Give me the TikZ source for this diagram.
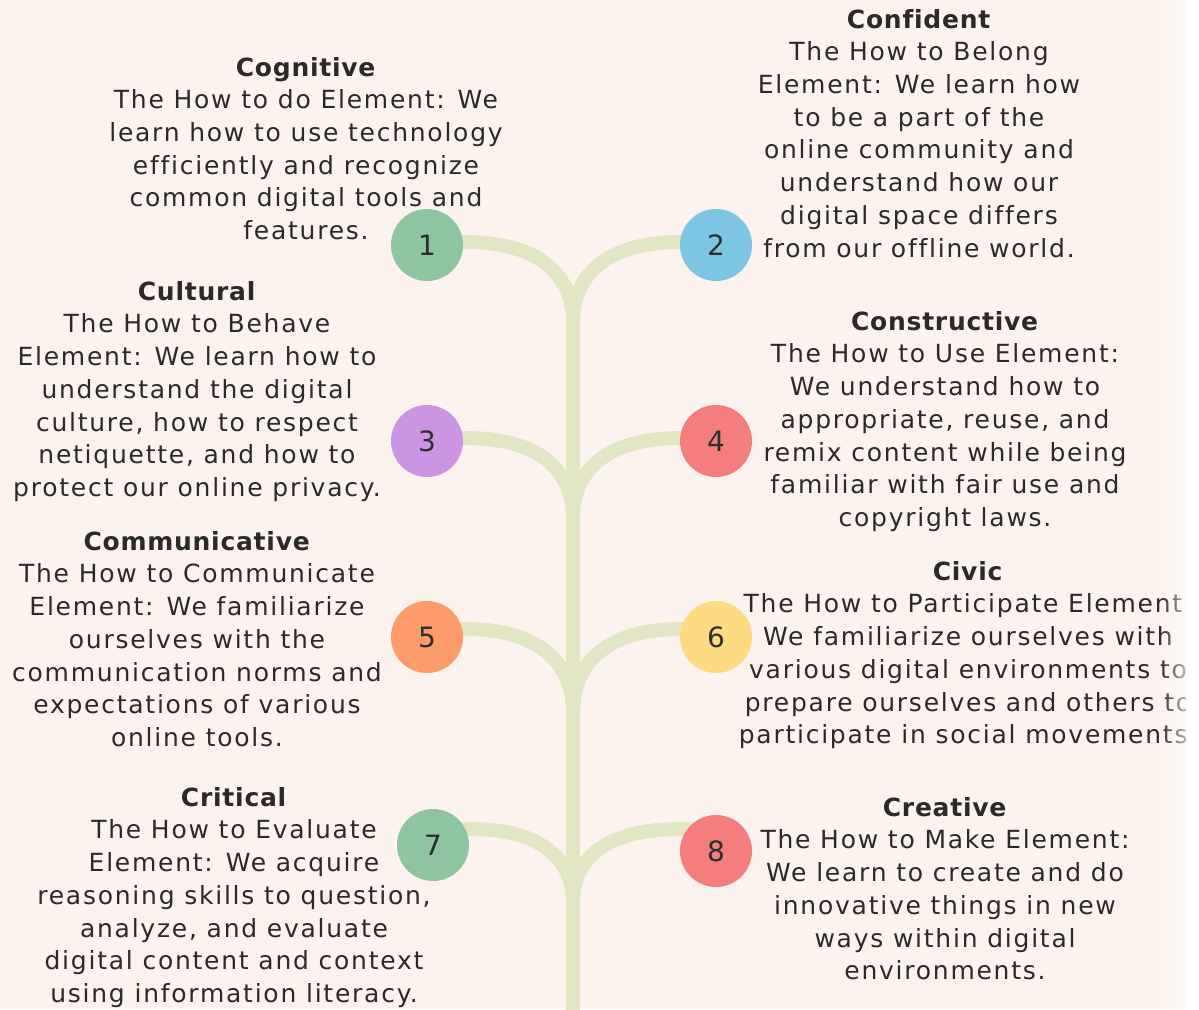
\documentclass[tikz,border=0pt]{standalone}
\usepackage{fontspec}
\setmainfont{DejaVu Sans}[LetterSpace=7, Ligatures=NoCommon, BoldFeatures={LetterSpace=3}]
\newfontfamily\numfont{DejaVu Sans}
\usetikzlibrary{fadings}
\definecolor{bgc}{HTML}{FCF3EE}
\definecolor{stemc}{HTML}{E2E6C4}
\definecolor{textc}{HTML}{2A2A2A}
\definecolor{numc}{HTML}{2E2E2E}
\definecolor{cgreen}{HTML}{8FC4A1}
\definecolor{cblue}{HTML}{7CC6E4}
\definecolor{cpurple}{HTML}{CC95E3}
\definecolor{cred}{HTML}{F47E7E}
\definecolor{corange}{HTML}{FB9C6A}
\definecolor{cyellow}{HTML}{FDDB82}
\pgfdeclarelayer{under}
\pgfsetlayers{under,main}
\begin{document}
\begin{tikzpicture}[x=1pt,y=-1pt,
  txt/.style={align=center, inner sep=0pt, anchor=north, text=textc,
    font=\fontsize{25}{32.7}\selectfont, execute at begin node=\strut},
  dot/.style={circle, minimum size=72pt, inner sep=0pt, text=numc,
    font=\numfont\fontsize{28}{32}\selectfont},
  branch/.style={draw=stemc, line width=14pt, line cap=butt}]
\useasboundingbox (0,0) rectangle (1199,1009);
\begin{pgfonlayer}{under}
  \fill[bgc] (0,0) rectangle (1199,1009);
\end{pgfonlayer}

% circles
\node[dot, fill=cgreen]  (c1) at (427,245) {1};
\node[dot, fill=cblue]   (c2) at (716,245) {2};
\node[dot, fill=cpurple] (c3) at (427,441) {3};
\node[dot, fill=cred]    (c4) at (716,441) {4};
\node[dot, fill=corange] (c5) at (427,637) {5};
\node[dot, fill=cyellow] (c6) at (716,637) {6};
\node[dot, fill=cgreen]  (c7) at (433,845) {7};
\node[dot, fill=cred]    (c8) at (716,851) {8};

% junctions on the stem
\coordinate (j1) at (573,322);
\coordinate (j2) at (573,518);
\coordinate (j3) at (573,713);
\coordinate (j4) at (573,903);
\coordinate (jb) at (573,1015);

\begin{pgfonlayer}{under}
  \draw[branch] (j1) -- (jb);
  \draw[branch] (c1.center) -- (465,242) .. controls (545,242) and (573,280) .. (j1);
  \draw[branch] (c2.center) -- (681,242) .. controls (601,242) and (573,280) .. (j1);
  \draw[branch] (c3.center) -- (465,438) .. controls (545,438) and (573,475) .. (j2);
  \draw[branch] (c4.center) -- (681,438) .. controls (601,438) and (573,475) .. (j2);
  \draw[branch] (c5.center) -- (465,629) .. controls (545,629) and (573,668) .. (j3);
  \draw[branch] (c6.center) -- (681,629) .. controls (601,629) and (573,668) .. (j3);
  \draw[branch] (c7.center) -- (450,829) -- (470,829) .. controls (545,829) and (573,862) .. (j4);
  \draw[branch] (c8.center) -- (700,829) -- (681,829) .. controls (601,829) and (573,862) .. (j4);
\end{pgfonlayer}

% texts
\node[txt] (t1) at (306,57) {\textbf{Cognitive}\\The How to do Element: We\\learn how to use technology\\efficiently and recognize\\common digital tools and\\features.};
\node[txt] (t2) at (919,9) {\textbf{Confident}\\The How to Belong\\Element: We learn how\\to be a part of the\\online community and\\understand how our\\digital space differs\\from our offline world.};
\node[txt] (t3) at (197,281) {\textbf{Cultural}\\The How to Behave\\Element: We learn how to\\understand the digital\\culture, how to respect\\netiquette, and how to\\protect our online privacy.};
\node[txt] (t4) at (945,311) {\textbf{Constructive}\\The How to Use Element:\\We understand how to\\appropriate, reuse, and\\remix content while being\\familiar with fair use and\\copyright laws.};
\node[txt] (t5) at (197,531) {\textbf{Communicative}\\The How to Communicate\\Element: We familiarize\\ourselves with the\\communication norms and\\expectations of various\\online tools.};
\node[txt] (t6) at (968,561) {\textbf{Civic}\\The How to Participate Element:\\We familiarize ourselves with\\various digital environments to\\prepare ourselves and others to\\participate in social movements.};
\node[txt] (t7) at (234,787) {\textbf{Critical}\\The How to Evaluate\\Element: We acquire\\reasoning skills to question,\\analyze, and evaluate\\digital content and context\\using information literacy.};
\node[txt] (t8) at (945,797) {\textbf{Creative}\\The How to Make Element:\\We learn to create and do\\innovative things in new\\ways within digital\\environments.};

% faded right edge
\fill[white, path fading=west] (1160,0) rectangle (1199,1009);
\fill[white] (1186,0) rectangle (1199,1009);
\end{tikzpicture}
\end{document}
